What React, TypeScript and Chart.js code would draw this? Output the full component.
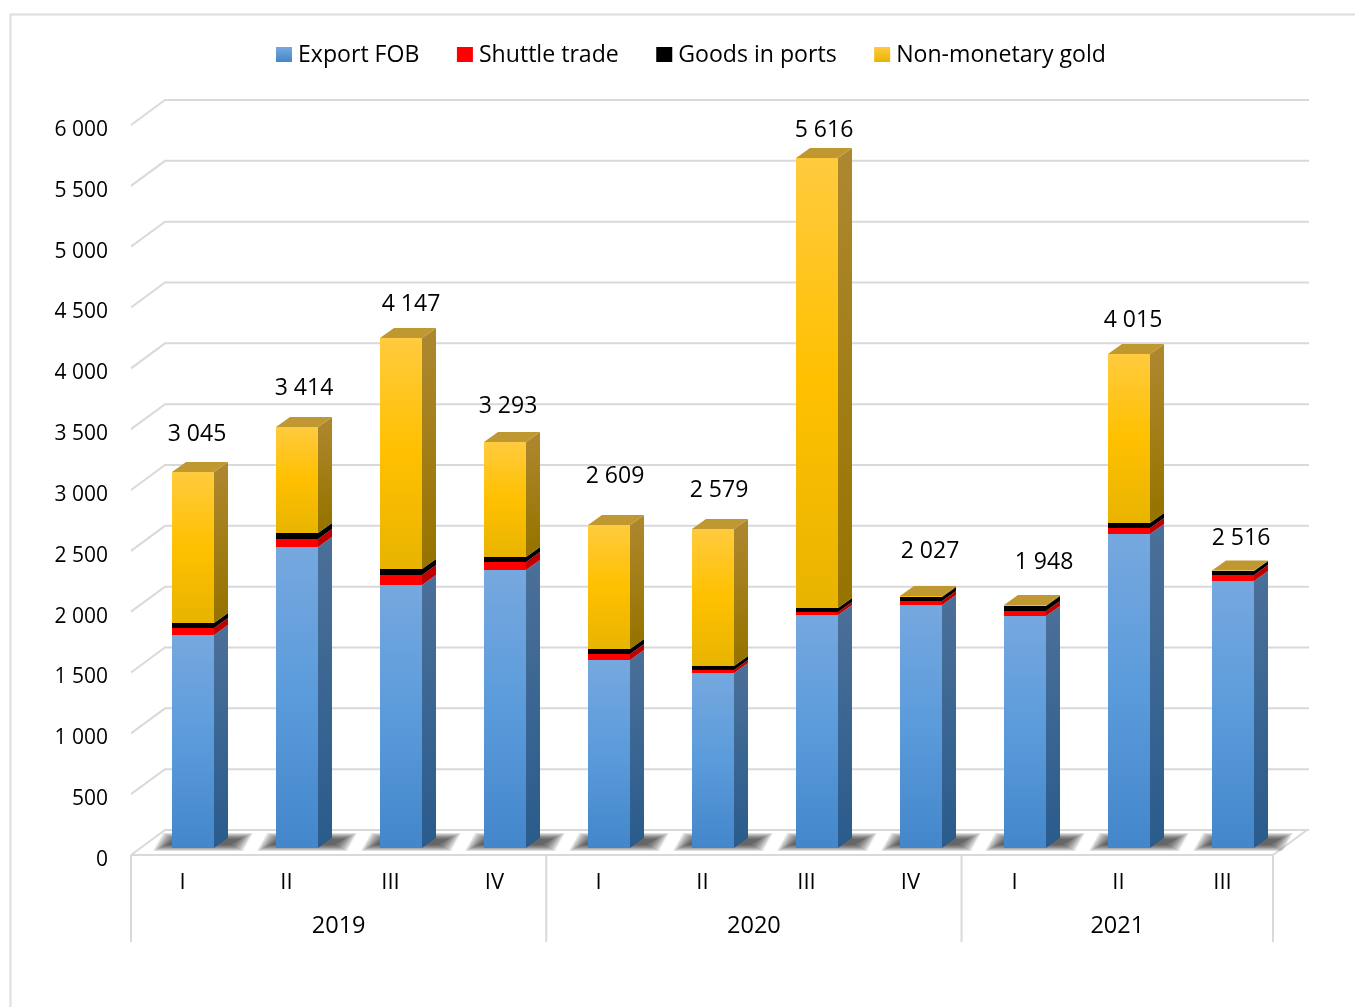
import React, { useEffect, useRef } from "react";
import { Chart, registerables } from "chart.js";

Chart.register(...registerables);

const quarters = ["I", "II", "III", "IV", "I", "II", "III", "IV", "I", "II", "III"];
const exportFob = [1751, 2474, 2162, 2285, 1545, 1438, 1915, 1997, 1907, 2581, 2194];
const shuttleTrade = [58, 66, 82, 66, 49, 25, 25, 33, 41, 49, 49];
const goodsInPorts = [41, 49, 49, 41, 41, 33, 33, 33, 41, 41, 33];
const nonMonetaryGold = [1241, 871, 1899, 945, 1019, 1126, 3699, 8, 8, 1389, 4];
const totalLabels = ["3 045", "3 414", "4 147", "3 293", "2 609", "2 579", "5 616", "2 027", "1 948", "4 015", "2 516"];
const years = ["2019", "2020", "2021"];
const quartersPerYear = [4, 4, 3];
const seriesNames = ["Export FOB", "Shuttle trade", "Goods in ports", "Non-monetary gold"];

const labelNudges: [number, number][] = [
  [4, 37], [7, 39], [10, 34], [3, 36], [6, 49], [6, 39], [7, 27], [9, 45], [19, 43], [4, 34], [8, 32],
];

const FONT = '"Open Sans"';
const GRID = "#D9D9D9";
const DX = 14;
const DY = 10;

const frontStops: Record<number, [string, string, string]> = {
  0: ["#76A8DF", "#5A9BDB", "#4386CA"],
  1: ["#FF0000", "#FF0000", "#FF0000"],
  2: ["#000000", "#000000", "#000000"],
  3: ["#FFCB3E", "#FFC000", "#E8B400"],
};
const sideStops: Record<number, [string, string]> = {
  0: ["#4B7099", "#2B5C8C"],
  1: ["#C00000", "#C00000"],
  2: ["#000000", "#000000"],
  3: ["#AE8830", "#977400"],
};

function fmt(v: number) {
  return String(v).replace(/\B(?=(\d{3})+$)/g, " ");
}

function frontFill(seriesIndex: number, values: number[][]) {
  return (c: any) => {
    const y = c.chart.scales?.y;
    const s = frontStops[seriesIndex];
    if (!y || c.dataIndex === undefined || c.dataIndex < 0) return s[1];
    let start = 0;
    for (let i = 0; i < seriesIndex; i++) start += values[i][c.dataIndex];
    const end = start + values[seriesIndex][c.dataIndex];
    const p0 = y.getPixelForValue(end);
    const p1 = y.getPixelForValue(start);
    if (!Number.isFinite(p0) || !Number.isFinite(p1)) return s[1];
    const g = c.chart.ctx.createLinearGradient(0, p0, 0, p1);
    g.addColorStop(0, s[0]);
    g.addColorStop(0.5, s[1]);
    g.addColorStop(1, s[2]);
    return g;
  };
}

const threeD = {
  id: "threeD",
  beforeDraw(chart: any) {
    const { ctx } = chart;
    ctx.save();
    ctx.strokeStyle = "#DEDEDE";
    ctx.lineWidth = 2;
    ctx.beginPath();
    ctx.moveTo(10.5, 1007);
    ctx.lineTo(10.5, 14.5);
    ctx.lineTo(1355, 14.5);
    ctx.stroke();
    ctx.restore();
  },
  beforeDatasetsDraw(chart: any) {
    const { ctx, chartArea: a, scales } = chart;
    const y = scales.y;
    ctx.save();
    const y0 = y.getPixelForValue(0);
    ctx.strokeStyle = GRID;
    ctx.lineWidth = 2;
    // walls: one line per tick of the value axis
    for (const t of y.ticks) {
      const py = y.getPixelForValue(t.value);
      ctx.beginPath();
      ctx.moveTo(a.left - 10, py + 7);
      ctx.lineTo(a.left + 24, py - 18);
      ctx.lineTo(a.right + 24, py - 18);
      ctx.stroke();
    }
    // floor
    ctx.beginPath();
    ctx.moveTo(a.left - 10, y0 + 7);
    ctx.lineTo(a.right - 12, y0 + 7);
    ctx.lineTo(a.right + 22, y0 - 18);
    ctx.stroke();
    // category frame
    ctx.beginPath();
    let edge = 0;
    const step = (a.right - a.left - 2) / quarters.length;
    const xs = [a.left - 10];
    quartersPerYear.forEach((n) => {
      edge += n;
      xs.push(a.left - 10 + edge * step);
    });
    xs.forEach((x) => {
      ctx.moveTo(x, y0 + 7);
      ctx.lineTo(x, y0 + 94);
    });
    ctx.stroke();
    // floor shadows: nested translucent layers give a soft edge
    const meta = chart.getDatasetMeta(0);
    const layers = 9;
    ctx.fillStyle = "rgba(30,30,30,0.12)";
    meta.data.forEach((b: any) => {
      const l = b.x - b.width / 2;
      const r = b.x + b.width / 2;
      for (let k = 0; k < layers; k++) {
        const grow = layers - 1 - k;
        const vy = grow * 0.75;
        const hx = grow * 1.6;
        ctx.beginPath();
        ctx.moveTo(l - 6 - hx, y0 - 3 + vy);
        ctx.lineTo(r + 16 + hx, y0 - 3 + vy);
        ctx.lineTo(r + 26 + hx, y0 - 9 - vy);
        ctx.lineTo(l + 4 - hx, y0 - 9 - vy);
        ctx.closePath();
        ctx.fill();
      }
    });
    ctx.restore();
  },
  afterDatasetsDraw(chart: any) {
    const { ctx, chartArea: a, scales } = chart;
    const y = scales.y;
    ctx.save();
    // side faces
    chart.data.datasets.forEach((_: any, si: number) => {
      chart.getDatasetMeta(si).data.forEach((b: any) => {
        const x = b.x + b.width / 2;
        const g = ctx.createLinearGradient(0, b.y - DY, 0, b.base - DY);
        g.addColorStop(0, sideStops[si][0]);
        g.addColorStop(1, sideStops[si][1]);
        ctx.fillStyle = g;
        ctx.beginPath();
        ctx.moveTo(x, b.y);
        ctx.lineTo(x + DX, b.y - DY);
        ctx.lineTo(x + DX, b.base - DY);
        ctx.lineTo(x, b.base);
        ctx.closePath();
        ctx.fill();
      });
    });
    // top faces and total labels
    const top = chart.getDatasetMeta(chart.data.datasets.length - 1).data;
    top.forEach((b: any, i: number) => {
      const l = b.x - b.width / 2;
      const r = b.x + b.width / 2;
      ctx.fillStyle = "#BF9832";
      ctx.beginPath();
      ctx.moveTo(l, b.y);
      ctx.lineTo(l + DX, b.y - DY);
      ctx.lineTo(r + DX, b.y - DY);
      ctx.lineTo(r, b.y);
      ctx.closePath();
      ctx.fill();
      ctx.fillStyle = "#000";
      ctx.font = `23px ${FONT}`;
      ctx.textAlign = "center";
      ctx.textBaseline = "middle";
      ctx.fillText(totalLabels[i], b.x + labelNudges[i][0], b.y - labelNudges[i][1]);
    });
    // year labels
    const y0 = y.getPixelForValue(0);
    const step = (a.right - a.left - 2) / quarters.length;
    let done = 0;
    ctx.font = `23.5px ${FONT}`;
    years.forEach((yr, i) => {
      const mid = a.left - 10 + (done + quartersPerYear[i] / 2) * step;
      ctx.fillText(yr, mid, y0 + 78);
      done += quartersPerYear[i];
    });
    // legend
    ctx.textAlign = "left";
    ctx.font = `23.1px ${FONT}`;
    let lx = 276;
    seriesNames.forEach((name, i) => {
      const s = frontStops[i];
      const g = ctx.createLinearGradient(0, 47, 0, 62);
      g.addColorStop(0, s[0]);
      g.addColorStop(1, s[2]);
      ctx.fillStyle = g;
      ctx.fillRect(lx, 47, 16, 15);
      ctx.fillStyle = "#000";
      ctx.fillText(name, lx + 22, 55);
      lx += 22 + ctx.measureText(name).width + 37.5;
    });
    ctx.restore();
  },
};

export default function App() {
  const ref = useRef<HTMLCanvasElement>(null);
  useEffect(() => {
    if (!ref.current) return;
    const values = [exportFob, shuttleTrade, goodsInPorts, nonMonetaryGold];
    const chart = new Chart(ref.current, {
      type: "bar",
      data: {
        labels: quarters,
        datasets: values.map((data, i) => ({
          label: seriesNames[i],
          data,
          stack: "total",
          backgroundColor: frontFill(i, values),
          borderWidth: 0,
          barPercentage: 0.404,
          categoryPercentage: 1,
        })),
      },
      options: {
        responsive: false,
        animation: false,
        devicePixelRatio: 1,
        layout: { padding: { left: 0, right: 70, top: 118, bottom: 0 } },
        plugins: { legend: { display: false }, tooltip: { enabled: false }, title: { display: false } },
        scales: {
          x: {
            stacked: true,
            grid: { display: false, drawTicks: false },
            border: { display: false },
            afterFit: (s: any) => { s.height = 159; },
            ticks: {
              autoSkip: false,
              maxRotation: 0,
              minRotation: 0,
              labelOffset: -10.5,
              padding: 22,
              color: "#000",
              font: { family: FONT, size: 22 },
            },
          },
          y: {
            stacked: true,
            min: 0,
            max: 6000,
            grid: { display: false, drawTicks: false },
            border: { display: false },
            afterFit: (s: any) => { s.width = 141; },
            ticks: {
              stepSize: 500,
              labelOffset: 12,
              padding: 33,
              color: "#000",
              font: { family: FONT, size: 21 },
              callback: (v: any) => fmt(Number(v)),
            },
          },
        },
      },
      plugins: [threeD],
    } as any);
    return () => chart.destroy();
  }, []);
  return (
    <canvas
      ref={ref}
      width={1355}
      height={1007}
      style={{ position: "absolute", left: 0, top: 0, display: "block" }}
    />
  );
}
